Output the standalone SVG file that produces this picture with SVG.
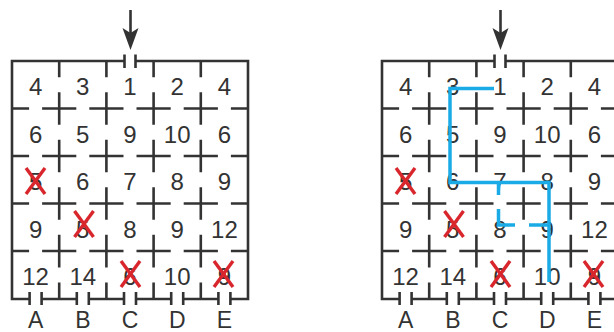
<svg xmlns="http://www.w3.org/2000/svg" xmlns:xlink="http://www.w3.org/1999/xlink" width="614" height="332" viewBox="0 0 614 332">
<style>
.w{fill:none;stroke:#333;stroke-width:2.6;stroke-linecap:butt;stroke-linejoin:miter}
.n{font-family:"Liberation Sans",Arial,sans-serif;font-size:24px;fill:#333;text-anchor:middle}
.l{font-family:"Liberation Sans",Arial,sans-serif;font-size:23px;fill:#333;text-anchor:middle}
.x{stroke:#d8262c;stroke-width:3.4;stroke-linecap:butt;fill:none}
.p{fill:none;stroke:#1aabe6;stroke-width:3.5;stroke-linecap:butt;stroke-linejoin:miter}
</style>
<defs>
<g id="walls">
<path class="w" d="M29.6,299H12V61H124.5M135.5,61H248V299H230.4M41.6,299H76.8M88.8,299H124M136,299H171.2M183.2,299H218.4"/>
<path class="w" d="M124.5,54.5V68M135.5,54.5V68M29.6,292V305M41.6,292V305M76.8,292V305M88.8,292V305M124,292V305M136,292V305M171.2,292V305M183.2,292V305M218.4,292V305M230.4,292V305"/>
<path class="w" d="M59.2,61V77.2M59.2,92.2V124.8M59.2,139.8V172.2M59.2,187.2V219.8M59.2,234.8V267.5M59.2,282.5V299
M106.4,61V77.2M106.4,92.2V124.8M106.4,139.8V172.2M106.4,187.2V219.8M106.4,234.8V267.5M106.4,282.5V299
M153.6,61V77.2M153.6,92.2V124.8M153.6,139.8V172.2M153.6,187.2V219.8M153.6,234.8V267.5M153.6,282.5V299
M200.8,61V77.2M200.8,92.2V124.8M200.8,139.8V172.2M200.8,187.2V219.8M200.8,234.8V267.5M200.8,282.5V299"/>
<path class="w" d="M12,108.5H29.1M42.1,108.5H76.3M89.3,108.5H123.5M136.5,108.5H170.7M183.7,108.5H217.9M230.9,108.5H248
M12,156H29.1M42.1,156H76.3M89.3,156H123.5M136.5,156H170.7M183.7,156H217.9M230.9,156H248
M12,203.5H29.1M42.1,203.5H76.3M89.3,203.5H123.5M136.5,203.5H170.7M183.7,203.5H217.9M230.9,203.5H248
M12,251H29.1M42.1,251H76.3M89.3,251H123.5M136.5,251H170.7M183.7,251H217.9M230.9,251H248"/>
<line x1="130.5" y1="10" x2="130.5" y2="36" stroke="#333" stroke-width="2.6"/>
<polygon points="130.5,50 122.5,28 130.5,33 138.5,28" fill="#333"/>
</g>
<g id="xm"><line class="x" x1="-9.5" y1="-13" x2="9.5" y2="13"/><line class="x" x1="9.5" y1="-13" x2="-9.5" y2="13"/></g>
</defs>

<g id="maze-left">
<use xlink:href="#walls" href="#walls"/>
<g class="n">
<text x="35.6" y="95">4</text><text x="82.8" y="95">3</text><text x="130" y="95">1</text><text x="177.2" y="95">2</text><text x="224.4" y="95">4</text>
<text x="35.6" y="142.5">6</text><text x="82.8" y="142.5">5</text><text x="130" y="142.5">9</text><text x="177.2" y="142.5">10</text><text x="224.4" y="142.5">6</text>
<text x="35.6" y="190">5</text><text x="82.8" y="190">6</text><text x="130" y="190">7</text><text x="177.2" y="190">8</text><text x="224.4" y="190">9</text>
<text x="35.6" y="237.5">9</text><text x="82.8" y="237.5">5</text><text x="130" y="237.5">8</text><text x="177.2" y="237.5">9</text><text x="224.4" y="237.5">12</text>
<text x="35.6" y="285">12</text><text x="82.8" y="285">14</text><text x="130" y="285">6</text><text x="177.2" y="285">10</text><text x="224.4" y="285">9</text>
</g>
<g class="l">
<text x="35.6" y="328">A</text><text x="82.8" y="328">B</text><text x="130" y="328">C</text><text x="177.2" y="328">D</text><text x="224.4" y="328">E</text>
</g>
<use href="#xm" xlink:href="#xm" transform="translate(35.5,181)"/>
<use href="#xm" xlink:href="#xm" transform="translate(84,224)"/>
<use href="#xm" xlink:href="#xm" transform="translate(130.5,274)"/>
<use href="#xm" xlink:href="#xm" transform="translate(223.5,274)"/>
</g>

<g id="maze-right">
<use xlink:href="#walls" href="#walls" transform="translate(370,0)"/>
<g class="n">
<text x="405.6" y="95">4</text><text x="452.8" y="95">3</text><text x="500" y="95">1</text><text x="547.2" y="95">2</text><text x="594.4" y="95">4</text>
<text x="405.6" y="142.5">6</text><text x="452.8" y="142.5">5</text><text x="500" y="142.5">9</text><text x="547.2" y="142.5">10</text><text x="594.4" y="142.5">6</text>
<text x="405.6" y="190">5</text><text x="452.8" y="190">6</text><text x="500" y="190">7</text><text x="547.2" y="190">8</text><text x="594.4" y="190">9</text>
<text x="405.6" y="237.5">9</text><text x="452.8" y="237.5">5</text><text x="500" y="237.5">8</text><text x="547.2" y="237.5">9</text><text x="594.4" y="237.5">12</text>
<text x="405.6" y="285">12</text><text x="452.8" y="285">14</text><text x="500" y="285">6</text><text x="547.2" y="285">10</text><text x="594.4" y="285">9</text>
</g>
<g class="l">
<text x="405.6" y="328">A</text><text x="452.8" y="328">B</text><text x="500" y="328">C</text><text x="547.2" y="328">D</text><text x="594.4" y="328">E</text>
</g>
<use href="#xm" xlink:href="#xm" transform="translate(405.5,181)"/>
<use href="#xm" xlink:href="#xm" transform="translate(454,224)"/>
<use href="#xm" xlink:href="#xm" transform="translate(500.5,274)"/>
<use href="#xm" xlink:href="#xm" transform="translate(593.5,274)"/>
</g>

<g id="connectors">
<path class="p" d="M494,88.5H450V182.5H549V282"/>
<path class="p" d="M498.5,182.5V195M498.5,209V226.7M496.8,225H515M529,225H549"/>
</g>
</svg>
